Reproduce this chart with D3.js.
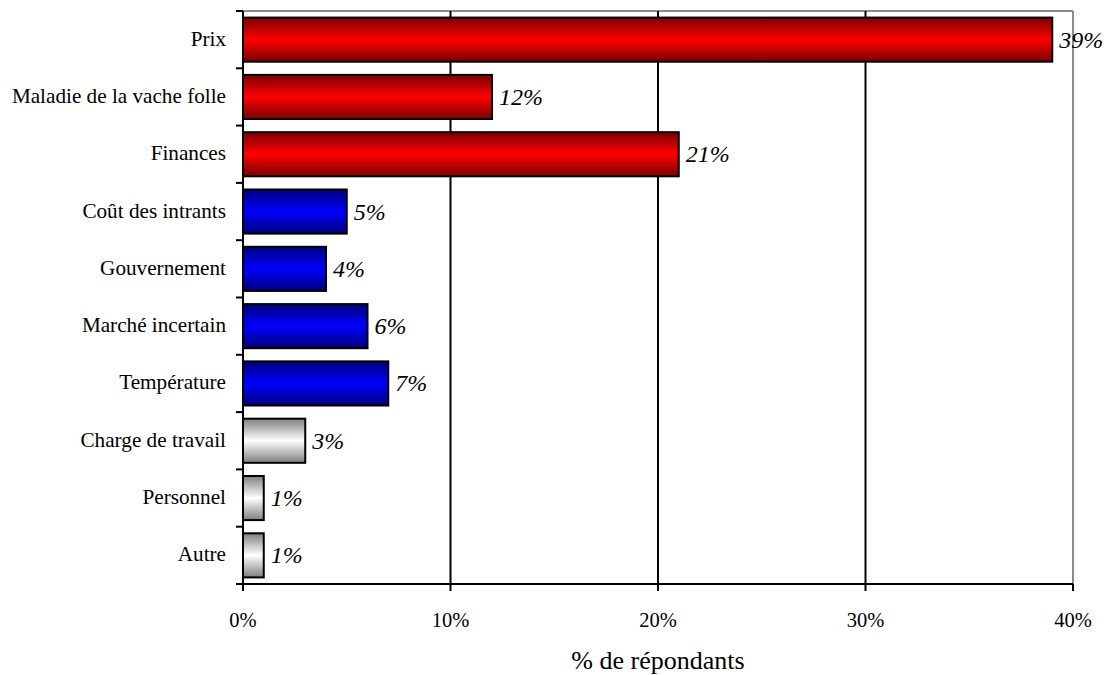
<!DOCTYPE html>
<html><head><meta charset="utf-8">
<script src="https://cdn.jsdelivr.net/npm/d3@7"></script>
<style>body{margin:0;background:#fff}</style>
</head><body>
<svg id="c" width="1110" height="675"></svg>
<script>
const categories = ["Prix","Maladie de la vache folle","Finances","Coût des intrants","Gouvernement","Marché incertain","Température","Charge de travail","Personnel","Autre"];
const values = [39,12,21,5,4,6,7,3,1,1];
const groups = ["red","red","red","blue","blue","blue","blue","gray","gray","gray"];
const xTicks = [0,10,20,30,40];
const xTitle = "% de répondants";

const FONT = "Liberation Serif, Times New Roman, serif";
const svg = d3.select("#c");
const m = {l:243, r:1073, t:11, b:584};
const x = d3.scaleLinear().domain([0,40]).range([m.l,m.r]);
const y = d3.scaleBand().domain(categories).range([m.t,m.b]).paddingInner(0.23).paddingOuter(0.115);
const yb = d3.scaleBand().domain(categories).range([m.t,m.b]);

const defs = svg.append("defs");
const cols = {red:["#7a0000","#ff0000"], blue:["#00007a","#0000ff"], gray:["#7f7f7f","#ffffff"]};
Object.entries(cols).forEach(([k,[d,l]])=>{
  const g = defs.append("linearGradient").attr("id","g-"+k).attr("x1",0).attr("x2",0).attr("y1",0).attr("y2",1);
  g.append("stop").attr("offset","0%").attr("stop-color",d);
  g.append("stop").attr("offset","50%").attr("stop-color",l);
  g.append("stop").attr("offset","100%").attr("stop-color",d);
});

svg.append("line").attr("x1",m.l).attr("x2",m.r).attr("y1",m.t).attr("y2",m.t).attr("stroke","#8c8c8c").attr("stroke-width",2);
svg.append("line").attr("x1",m.r).attr("x2",m.r).attr("y1",m.t).attr("y2",m.b).attr("stroke","#8c8c8c").attr("stroke-width",2);
svg.selectAll(".grid").data(xTicks.filter(d=>d>0&&d<40)).enter().append("line")
  .attr("x1",d=>x(d)).attr("x2",d=>x(d)).attr("y1",m.t).attr("y2",m.b).attr("stroke","#000").attr("stroke-width",2);

svg.selectAll(".bar").data(categories).enter().append("rect")
  .attr("x",x(0)).attr("y",d=>y(d)).attr("width",(d,i)=>x(values[i])-x(0)).attr("height",y.bandwidth())
  .attr("fill",(d,i)=>"url(#g-"+groups[i]+")").attr("stroke","#000").attr("stroke-width",2);

svg.selectAll(".vl").data(categories).enter().append("text")
  .attr("x",(d,i)=>x(values[i])+7).attr("y",d=>y(d)+y.bandwidth()/2+8)
  .attr("font-family",FONT).attr("font-style","italic").attr("font-size",24)
  .text((d,i)=>values[i]+"%");

svg.append("line").attr("x1",m.l).attr("x2",m.l).attr("y1",m.t).attr("y2",m.b).attr("stroke","#000").attr("stroke-width",2);
const bounds = categories.map(c=>yb(c)).concat([m.b]);
svg.selectAll(".yt").data(bounds).enter().append("line")
  .attr("x1",m.l-7).attr("x2",m.l).attr("y1",d=>d).attr("y2",d=>d).attr("stroke","#000").attr("stroke-width",2);
svg.selectAll(".yl").data(categories).enter().append("text")
  .attr("x",226).attr("y",d=>yb(d)+yb.bandwidth()/2+6).attr("text-anchor","end")
  .attr("font-family",FONT).attr("font-size",21.2).text(d=>d);

svg.append("line").attr("x1",m.l-7).attr("x2",m.r).attr("y1",m.b).attr("y2",m.b).attr("stroke","#000").attr("stroke-width",2);
svg.selectAll(".xt").data(xTicks).enter().append("line")
  .attr("x1",d=>x(d)).attr("x2",d=>x(d)).attr("y1",m.b).attr("y2",m.b+7).attr("stroke","#000").attr("stroke-width",2);
svg.selectAll(".xl").data(xTicks).enter().append("text")
  .attr("x",d=>x(d)).attr("y",627).attr("text-anchor","middle")
  .attr("font-family",FONT).attr("font-size",20.5).text(d=>d+"%");
svg.append("text").attr("x",(m.l+m.r)/2).attr("y",669).attr("text-anchor","middle")
  .attr("font-family",FONT).attr("font-size",26).text(xTitle);
</script>
</body></html>
